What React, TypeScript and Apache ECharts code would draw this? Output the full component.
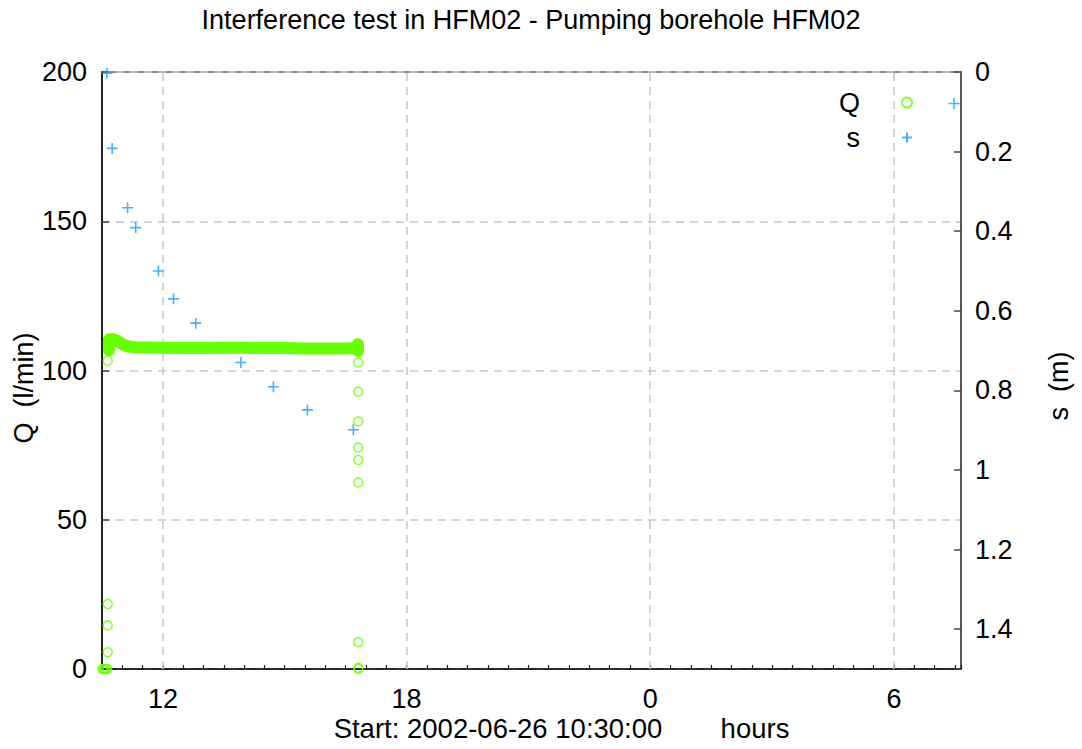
import React, { useEffect, useRef } from "react";
import * as echarts from "echarts";

const FONT = "'Liberation Sans', Arial, Helvetica, sans-serif";

// s (m) drawdown, blue crosses
const sTime = [10.62, 10.75, 11.13, 11.33, 11.89, 12.26, 12.81, 13.92, 14.72, 15.56, 16.69, 31.48];
const sValue = [0.003, 0.192, 0.341, 0.391, 0.5, 0.57, 0.631, 0.73, 0.791, 0.849, 0.899, 0.079];

// Q (l/min) isolated readings, green circles
const qTime = [10.51, 10.54, 10.57, 10.6, 10.63, 10.64, 10.64, 10.64, 10.64, 16.81, 16.81, 16.81, 16.81, 16.81, 16.81, 16.81, 16.81, 16.81];
const qValue = [0, 0, 0, 0, 0, 5.6, 14.6, 21.8, 103.3, 102.7, 92.9, 82.9, 74.2, 70.0, 62.5, 9.0, 0.4, 0];

// Q (l/min) dense logging during pumping (drawn as a continuous band)
const bandTime = [10.67, 10.67, 10.75, 10.82, 10.92, 11.02, 11.12, 11.3, 11.6, 12, 12.5, 13, 13.5, 14, 14.5, 15, 15.5, 16, 16.5, 16.75, 16.8, 16.8];
const bandValue = [106.8, 110.4, 110.5, 110.3, 109.5, 108.7, 108.1, 107.8, 107.7, 107.6, 107.5, 107.5, 107.6, 107.6, 107.5, 107.5, 107.4, 107.4, 107.4, 107.5, 108.8, 106.5];

const gridHours = [12, 18, 24, 30];

const X_MIN = 10.5;
const X_MAX = 31.652;

const GREEN = "#66ff00";
const BLUE = "#1a9bff";
const PLUS = "path://M0,5L10,5M5,0L5,10";

export default function App() {
  const ref = useRef<HTMLDivElement>(null);
  useEffect(() => {
    document.body.style.margin = "0";
    if (!ref.current) return;
    const chart = echarts.init(ref.current, undefined, { renderer: "svg" });
    const textBase = { fontFamily: FONT, fontSize: 27, color: "#000" };
    chart.setOption({
      animation: false,
      backgroundColor: "#fff",
      textStyle: { fontFamily: FONT },
      title: {
        text: "Interference test in HFM02 - Pumping borehole HFM02",
        left: 531,
        textAlign: "center",
        top: 6,
        padding: 0,
        textStyle: { ...textBase, fontWeight: "normal" },
      },
      legend: [
        {
          data: ["Q"],
          orient: "vertical",
          align: "right",
          right: 164,
          top: 84,
          itemWidth: 84,
          itemHeight: 10,
          symbolKeepAspect: true,
          textStyle: textBase,
        },
        {
          data: ["s"],
          orient: "vertical",
          align: "right",
          right: 164,
          top: 119,
          itemWidth: 84,
          itemHeight: 10,
          symbolKeepAspect: true,
          textStyle: textBase,
        },
      ],
      grid: {
        left: 102,
        top: 72,
        width: 859,
        height: 597,
        show: true,
        borderColor: "#666",
        borderWidth: 1.5,
        backgroundColor: "transparent",
      },
      xAxis: {
        type: "value",
        min: X_MIN,
        max: X_MAX,
        interval: 0.5,
        axisLine: { show: true, onZero: false, lineStyle: { color: "#000", width: 1.5 } },
        axisTick: { show: true, inside: true, length: 4, lineStyle: { color: "#222", width: 1.2 } },
        splitLine: { show: false },
        axisLabel: {
          ...textBase,
          margin: 16,
          showMinLabel: true,
          showMaxLabel: true,
          formatter: (v: number) => {
            const k = v / 6;
            return Math.abs(k - Math.round(k)) < 1e-6 ? String(Math.round(v) % 24) : "";
          },
        },
      },
      yAxis: [
        {
          type: "value",
          min: 0,
          max: 200,
          interval: 50,
          position: "left",
          axisLine: { show: true, lineStyle: { color: "#000", width: 1.5 } },
          axisTick: { show: true, inside: true, length: 7, lineStyle: { color: "#444", width: 1.5 } },
          splitLine: { show: true, lineStyle: { color: "#c8c8c8", width: 1.5, type: [8, 6] } },
          axisLabel: { ...textBase, margin: 15 },
        },
        {
          type: "value",
          min: 0,
          max: 1.5,
          interval: 0.2,
          inverse: true,
          position: "right",
          axisLine: { show: true, lineStyle: { color: "#444", width: 1.5 } },
          axisTick: { show: true, inside: true, length: 7, lineStyle: { color: "#444", width: 1.5 } },
          splitLine: { show: false },
          axisLabel: {
            ...textBase,
            margin: 14,
            formatter: (v: number) => {
              const k = v / 0.2;
              return Math.abs(k - Math.round(k)) < 1e-6 ? String(+v.toFixed(1)) : "";
            },
          },
        },
      ],
      graphic: [
        {
          type: "text",
          x: 24,
          y: 388,
          rotation: Math.PI / 2,
          style: { text: "Q  (l/min)", font: `27px ${FONT}`, fill: "#000", textAlign: "center", textVerticalAlign: "middle" },
        },
        {
          type: "text",
          x: 1059,
          y: 386,
          rotation: Math.PI / 2,
          style: { text: "s  (m)", font: `27px ${FONT}`, fill: "#000", textAlign: "center", textVerticalAlign: "middle" },
        },
        {
          type: "text",
          x: 498,
          y: 728,
          style: { text: "Start: 2002-06-26 10:30:00", font: `27.5px ${FONT}`, fill: "#000", textAlign: "center", textVerticalAlign: "middle" },
        },
        {
          type: "text",
          x: 755,
          y: 728,
          style: { text: "hours", font: `27.5px ${FONT}`, fill: "#000", textAlign: "center", textVerticalAlign: "middle" },
        },
      ],
      series: [
        {
          name: "Q band",
          type: "line",
          xAxisIndex: 0,
          yAxisIndex: 0,
          data: bandTime.map((t, i) => [t, bandValue[i]]),
          showSymbol: false,
          symbol: "none",
          z: 2,
          lineStyle: { color: GREEN, width: 12, cap: "round", join: "round" },
          markLine: {
            silent: true,
            z: 1,
            symbol: "none",
            label: { show: false },
            lineStyle: { color: "#c8c8c8", width: 1.5, type: [8, 6] },
            data: gridHours.map((h) => ({ xAxis: h })),
          },
        },
        {
          name: "Q",
          type: "scatter",
          xAxisIndex: 0,
          yAxisIndex: 0,
          data: qTime.map((t, i) => [t, qValue[i]]),
          symbol: "circle",
          symbolSize: 9,
          clip: false,
          z: 3,
          itemStyle: { color: "transparent", borderColor: GREEN, borderWidth: 1.5 },
        },
        {
          name: "s",
          type: "scatter",
          xAxisIndex: 0,
          yAxisIndex: 1,
          data: sTime.map((t, i) => [t, sValue[i]]),
          symbol: PLUS,
          symbolSize: 11,
          clip: false,
          z: 4,
          itemStyle: { color: "transparent", borderColor: BLUE, borderWidth: 1.6 },
        },
      ],
    });
    return () => chart.dispose();
  }, []);
  return <div ref={ref} style={{ width: 1082, height: 749 }} />;
}
